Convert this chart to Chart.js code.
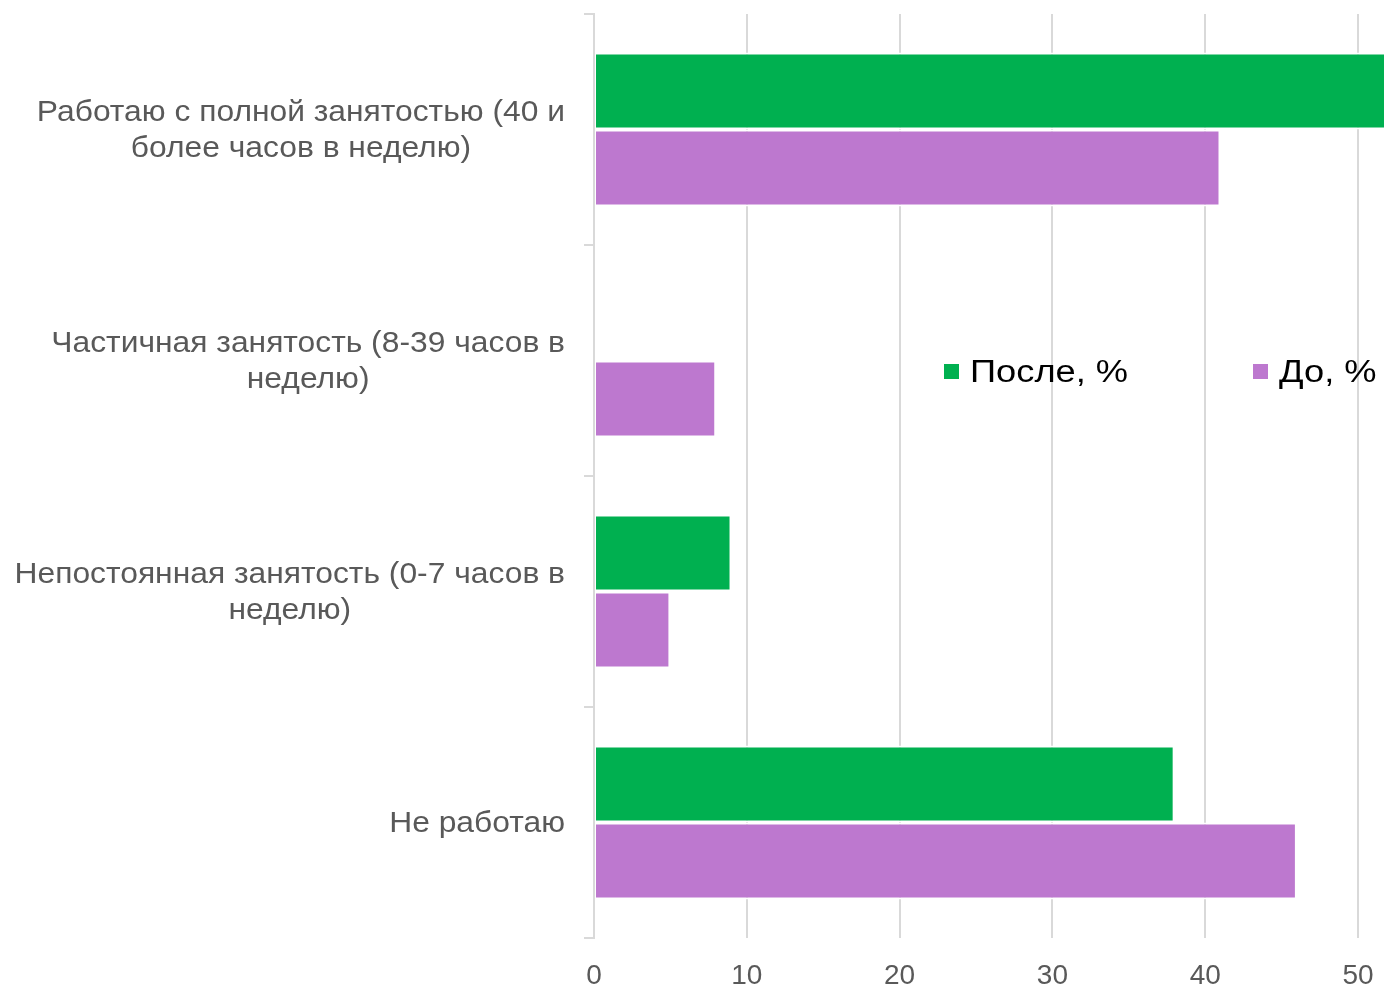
<!DOCTYPE html>
<html>
<head>
<meta charset="utf-8">
<script src="https://cdn.jsdelivr.net/npm/chart.js@4"></script>
<style>
  html, body { margin: 0; padding: 0; background: #fff; overflow: hidden; }
  #wrap { width: 1384px; height: 990px; position: relative; }
</style>
</head>
<body>
<div id="wrap"><canvas id="chart"></canvas></div>
<script>
// категории (по строкам подписи) и значения
const categories = [
  ['Работаю с полной занятостью (40 и', 'более часов в неделю)'],
  ['Частичная занятость (8-39 часов в', 'неделю)'],
  ['Непостоянная занятость (0-7 часов в', 'неделю)'],
  ['Не работаю']
];
const afterValues = [52, null, 9, 38];
const beforeValues = [41, 8, 5, 46];
const seriesNames = ['После, %', 'До, %'];
const seriesColors = ['#00b050', '#bd78cf'];
const xTicks = [0, 10, 20, 30, 40, 50];

const FONT = '"Liberation Sans", Arial, sans-serif';

// подписи категорий: блок выровнен вправо, строки по центру
const catLabels = {
  id: 'catLabels',
  afterDraw(chart) {
    const ctx = chart.ctx, y = chart.scales.y;
    const right = chart.chartArea.left - 29;
    const sx = 1.06;
    ctx.save();
    ctx.font = '30px ' + FONT;
    ctx.fillStyle = '#595959';
    ctx.textAlign = 'center';
    ctx.textBaseline = 'middle';
    ctx.scale(sx, 1);
    categories.forEach((lines, i) => {
      const cy = y.getPixelForValue(i);
      const w = Math.max(...lines.map(l => ctx.measureText(l).width)) * sx;
      lines.forEach((l, j) => {
        ctx.fillText(l, (right - w / 2) / sx, cy + 1 + (j - (lines.length - 1) / 2) * 36);
      });
    });
    ctx.restore();
  }
};

// легенда внутри области графика
const innerLegend = {
  id: 'innerLegend',
  afterDraw(chart) {
    const ctx = chart.ctx;
    const pos = [944, 1253];
    const cy = 372;
    const sx = 1.17;
    ctx.save();
    ctx.font = '31px ' + FONT;
    ctx.textBaseline = 'middle';
    ctx.textAlign = 'left';
    seriesNames.forEach((name, i) => {
      ctx.fillStyle = seriesColors[i];
      ctx.fillRect(pos[i], cy - 8, 15, 15);
      ctx.fillStyle = '#000';
      ctx.save();
      ctx.scale(sx, 1);
      ctx.fillText(name, (pos[i] + 26) / sx, cy + 1);
      ctx.restore();
    });
    ctx.restore();
  }
};

new Chart(document.getElementById('chart'), {
  type: 'bar',
  data: {
    labels: categories,
    datasets: [
      { label: seriesNames[0], data: afterValues, backgroundColor: seriesColors[0] },
      { label: seriesNames[1], data: beforeValues, backgroundColor: seriesColors[1] }
    ]
  },
  options: {
    indexAxis: 'y',
    responsive: true,
    maintainAspectRatio: false,
    animation: false,
    layout: { padding: { top: 14, right: 0, left: 0, bottom: 0 } },
    datasets: {
      bar: {
        categoryPercentage: 0.667,
        barPercentage: 1,
        borderColor: '#fff',
        borderWidth: { top: 2, bottom: 2, right: 2, left: 1 },
        borderSkipped: false
      }
    },
    plugins: { legend: { display: false }, tooltip: { enabled: false } },
    scales: {
      x: {
        min: 0,
        max: 51.7,
        afterBuildTicks: s => { s.ticks = xTicks.map(v => ({ value: v })); },
        afterFit: s => { s.height = 52; s.paddingRight = 0; s.paddingLeft = 0; },
        grid: { color: '#d9d9d9', lineWidth: 2, drawTicks: false },
        border: { display: false },
        ticks: { color: '#595959', font: { family: FONT, size: 28 }, padding: 21 }
      },
      y: {
        afterFit: s => { s.width = 594; },
        grid: { offset: true, drawOnChartArea: false, color: '#d9d9d9', lineWidth: 2, tickLength: 10 },
        border: { color: '#d9d9d9', width: 2 },
        ticks: { display: false }
      }
    }
  },
  plugins: [catLabels, innerLegend]
});
</script>
</body>
</html>
